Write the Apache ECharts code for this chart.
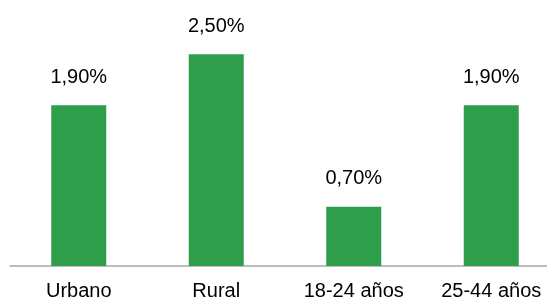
<!DOCTYPE html>
<html>
<head>
<meta charset="utf-8">
<script src="https://cdn.jsdelivr.net/npm/echarts@6/dist/echarts.min.js"></script>
<style>
  html, body { margin: 0; padding: 0; background: #fff; }
  #chart { width: 547px; height: 301px; }
</style>
</head>
<body>
<div id="chart"></div>
<script>
// categorieën en waarden
const categories = ['Urbano', 'Rural', '18-24 años', '25-44 años'];
const values = [1.9, 2.5, 0.7, 1.9];

const chart = echarts.init(document.getElementById('chart'));

chart.setOption({
  animation: false,
  grid: {
    left: 10, width: 550, top: 12, bottom: 35,
    containLabel: false,
    outerBoundsMode: 'none'
  },
  xAxis: {
    type: 'category',
    data: categories,
    axisTick: { show: false },
    axisLine: { lineStyle: { color: '#a6a6a6', width: 1.5 } },
    axisLabel: {
      color: '#000',
      fontFamily: 'Liberation Sans, Arial, sans-serif',
      fontSize: 20,
      margin: 15,
      hideOverlap: false,
      interval: 0
    }
  },
  yAxis: {
    type: 'value',
    min: 0,
    max: 3,
    show: false
  },
  series: [
    {
      type: 'bar',
      data: values,
      barWidth: '40%',
      itemStyle: { color: '#2e9e4a' },
      label: {
        show: true,
        position: 'top',
        distance: 18,
        color: '#000',
        fontFamily: 'Liberation Sans, Arial, sans-serif',
        fontSize: 20,
        formatter: p => p.value.toFixed(2).replace('.', ',') + '%'
      }
    }
  ]
});
</script>
</body>
</html>
